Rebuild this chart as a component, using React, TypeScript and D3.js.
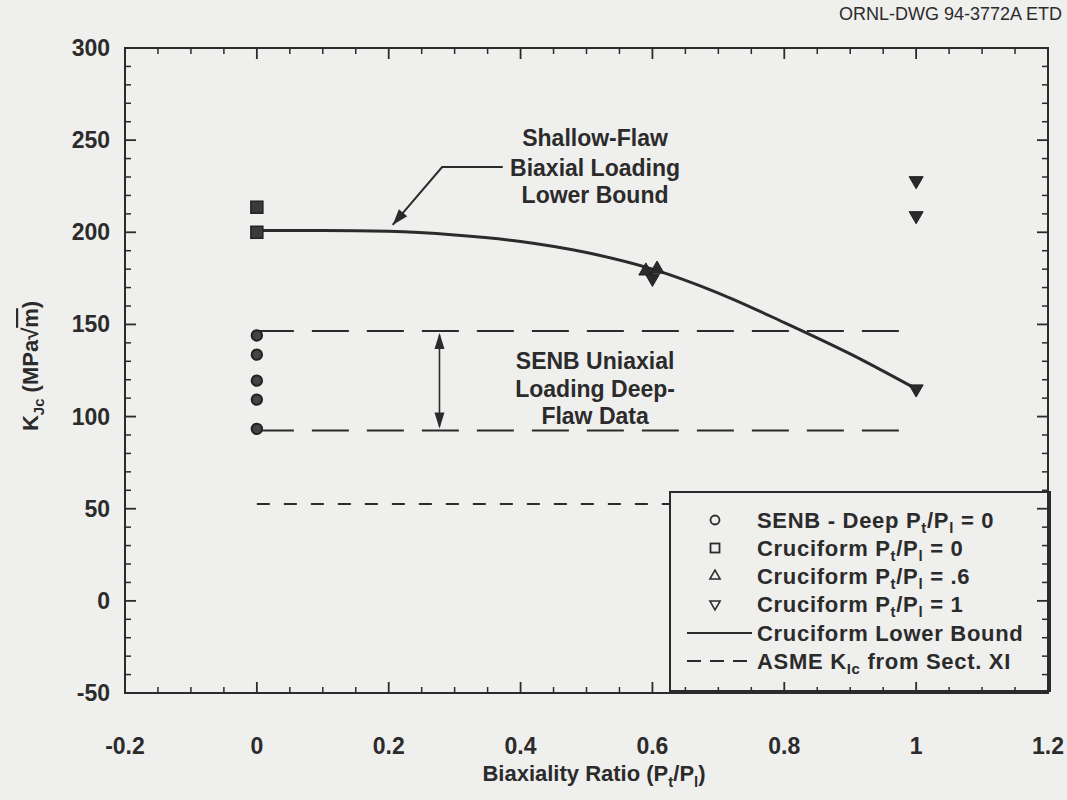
import React from "react";
import * as d3 from "d3";

const W = 1067;
const H = 800;

// Axis ticks
const xTickValues = [-0.2, 0, 0.2, 0.4, 0.6, 0.8, 1, 1.2];
const xTickLabels = ["-0.2", "0", "0.2", "0.4", "0.6", "0.8", "1", "1.2"];
const yTickValues = [-50, 0, 50, 100, 150, 200, 250, 300];
const yTickLabels = ["-50", "0", "50", "100", "150", "200", "250", "300"];

// Data series
const senbX = [0, 0, 0, 0, 0];
const senbK = [144, 133.6, 119.5, 109.2, 93.3];
const cruc0X = [0, 0];
const cruc0K = [213.6, 200];
const cruc06X = [0.59, 0.607];
const cruc06K = [179, 180];
const cruc1X = [0.6, 1, 1, 1];
const cruc1K = [175, 228, 209, 115];

// Cruciform lower bound curve
const lowerBoundX = [0, 0.1, 0.2, 0.3, 0.4, 0.5, 0.6, 0.7, 0.8, 0.9, 1.0];
const lowerBoundK = [201, 201, 200.5, 198.5, 195, 189, 180, 167, 151, 134, 115];

// Reference lines
const senbBandK = [146.5, 92.5];
const senbBandX = [0, 0.99];
const asmeK = 52.5;
const asmeX = [0, 1.0];

const BG = "#efefed";
const INK = "#2b2b2b";
const FONT = "'Liberation Sans', Arial, Helvetica, sans-serif";

type Seg = { t: string; sub?: boolean; over?: boolean };

function Rich({ segs, size, shift = 0.25 }: { segs: Seg[]; size: number; shift?: number }) {
  const out: any[] = [];
  let shifted = false;
  segs.forEach((s, i) => {
    let dy = 0;
    if (s.sub && !shifted) {
      dy = size * shift;
      shifted = true;
    } else if (!s.sub && shifted) {
      dy = -size * shift;
      shifted = false;
    }
    out.push(
      <tspan
        key={i}
        dy={dy || undefined}
        fontSize={s.sub ? size * 0.68 : size}
        textDecoration={s.over ? "overline" : undefined}
      >
        {s.t}
      </tspan>
    );
  });
  return <>{out}</>;
}

export default function App() {
  const x = d3.scaleLinear().domain([-0.2, 1.2]).range([125, 1048]);
  const y = d3.scaleLinear().domain([-50, 300]).range([693, 48]);
  const [x0, x1] = x.range();
  const [yb, yt] = y.range();

  const xMinor = d3.range(-0.2, 1.2001, 0.05).filter((v) => Math.abs(Math.round(v * 5) - v * 5) > 1e-6);
  const yMinor = d3.range(-50, 300.001, 10).filter((v) => v % 50 !== 0);

  const line = d3
    .line<number>()
    .x((_, i) => x(lowerBoundX[i]))
    .y((d) => y(d))
    .curve(d3.curveMonotoneX);

  const tri = d3.symbol().type(d3.symbolTriangle).size(85)() as string;
  const triL = d3.symbol().type(d3.symbolTriangle).size(45)() as string;

  const majorLen = 11;
  const minorLen = 6;
  const FS = 23;
  const LFS = 22;

  // annotation anchors (data coords)
  const shallowTip = [0.206, 204];
  const shallowElbow = [0.281, 235.4];
  const shallowEnd = [0.373, 235.4];
  const shallowText = [0.513, 247];
  const senbArrowX = 0.277;
  const senbText = [0.513, 126];

  const dx = x(shallowTip[0]) - x(shallowElbow[0]);
  const dyv = y(shallowTip[1]) - y(shallowElbow[1]);
  const ang = (Math.atan2(dyv, dx) * 180) / Math.PI;

  const legendRows = [
    { kind: "circle", segs: [{ t: "SENB - Deep P" }, { t: "t", sub: true }, { t: "/P" }, { t: "l", sub: true }, { t: " = 0" }] },
    { kind: "square", segs: [{ t: "Cruciform P" }, { t: "t", sub: true }, { t: "/P" }, { t: "l", sub: true }, { t: " = 0" }] },
    { kind: "up", segs: [{ t: "Cruciform P" }, { t: "t", sub: true }, { t: "/P" }, { t: "l", sub: true }, { t: " = .6" }] },
    { kind: "down", segs: [{ t: "Cruciform P" }, { t: "t", sub: true }, { t: "/P" }, { t: "l", sub: true }, { t: " = 1" }] },
    { kind: "solid", segs: [{ t: "Cruciform Lower Bound" }] },
    { kind: "dash", segs: [{ t: "ASME K" }, { t: "Ic", sub: true }, { t: " from Sect. XI" }] },
  ];
  const legX = 670, legY = 492, legW = 380, legH = 199;
  const legRowY = [520, 548, 576, 604, 633, 661];

  return (
    <svg
      width={W}
      height={H}
      style={{ position: "absolute", left: 0, top: 0, background: BG }}
      fontFamily={FONT}
    >
      <rect x={0} y={0} width={W} height={H} fill={BG} />

      {/* title */}
      <text x={1062} y={20} textAnchor="end" fontSize={18} fill={INK}>
        ORNL-DWG 94-3772A ETD
      </text>

      {/* SENB band lines */}
      {senbBandK.map((k, i) => (
        <line
          key={"band" + i}
          x1={x(senbBandX[0])}
          x2={x(senbBandX[1])}
          y1={y(k)}
          y2={y(k)}
          stroke={INK}
          strokeWidth={2}
          strokeDasharray="37,18"
        />
      ))}
      {/* ASME line */}
      <line
        x1={x(asmeX[0])}
        x2={x(asmeX[1])}
        y1={y(asmeK)}
        y2={y(asmeK)}
        stroke={INK}
        strokeWidth={2}
        strokeDasharray="13,14"
      />

      {/* lower bound curve */}
      <path d={line(lowerBoundK) || ""} fill="none" stroke={INK} strokeWidth={3} />

      {/* SENB double arrow */}
      <line
        x1={x(senbArrowX)}
        x2={x(senbArrowX)}
        y1={y(senbBandK[0]) + 4}
        y2={y(senbBandK[1]) - 4}
        stroke={INK}
        strokeWidth={1.6}
      />
      <path d={`M${x(senbArrowX)},${y(senbBandK[0]) + 2} l-5,16 l10,0 z`} fill={INK} />
      <path d={`M${x(senbArrowX)},${y(senbBandK[1]) - 2} l-5,-16 l10,0 z`} fill={INK} />
      <text
        x={x(senbText[0])}
        y={y(senbText[1])}
        textAnchor="middle"
        fontSize={FS}
        fontWeight="bold"
        fill={INK}
      >
        <tspan x={x(senbText[0])} dy={0}>SENB Uniaxial</tspan>
        <tspan x={x(senbText[0])} dy={28}>Loading Deep-</tspan>
        <tspan x={x(senbText[0])} dy={27}>Flaw Data</tspan>
      </text>

      {/* Shallow-flaw annotation */}
      <polyline
        points={`${x(shallowEnd[0])},${y(shallowEnd[1])} ${x(shallowElbow[0])},${y(shallowElbow[1])} ${x(shallowTip[0])},${y(shallowTip[1])}`}
        fill="none"
        stroke={INK}
        strokeWidth={2}
      />
      <path
        d="M0,0 L-16,-5.5 L-16,5.5 Z"
        fill={INK}
        transform={`translate(${x(shallowTip[0])},${y(shallowTip[1])}) rotate(${ang})`}
      />
      <text
        x={x(shallowText[0])}
        y={y(shallowText[1])}
        textAnchor="middle"
        fontSize={FS}
        fontWeight="bold"
        fill={INK}
      >
        <tspan x={x(shallowText[0])} dy={0}>Shallow-Flaw</tspan>
        <tspan x={x(shallowText[0])} dy={30}>Biaxial Loading</tspan>
        <tspan x={x(shallowText[0])} dy={27}>Lower Bound</tspan>
      </text>

      {/* data markers */}
      {senbK.map((k, i) => (
        <circle key={"c" + i} cx={x(senbX[i])} cy={y(k)} r={5.2} fill="#444" stroke="#222" strokeWidth={2} />
      ))}
      {cruc0K.map((k, i) => (
        <rect key={"s" + i} x={x(cruc0X[i]) - 6} y={y(k) - 6} width={12} height={12} fill="#3a3a3a" stroke="#222" strokeWidth={1.5} />
      ))}
      {cruc06K.map((k, i) => (
        <path key={"u" + i} d={tri} transform={`translate(${x(cruc06X[i])},${y(k)})`} fill="#2a2a2a" stroke="#222" strokeWidth={1} />
      ))}
      {cruc1K.map((k, i) => (
        <path key={"d" + i} d={tri} transform={`translate(${x(cruc1X[i])},${y(k)}) rotate(180)`} fill="#2a2a2a" stroke="#222" strokeWidth={1} />
      ))}

      {/* legend box */}
      <rect x={legX} y={legY} width={legW} height={legH} fill={BG} stroke={INK} strokeWidth={2} />
      {legendRows.map((r, i) => {
        const cy = legRowY[i];
        const sx = 715;
        let sym: any = null;
        if (r.kind === "circle") sym = <circle cx={sx} cy={cy} r={4.5} fill="none" stroke={INK} strokeWidth={1.8} />;
        else if (r.kind === "square") sym = <rect x={sx - 4.5} y={cy - 4.5} width={9} height={9} fill="none" stroke={INK} strokeWidth={1.8} />;
        else if (r.kind === "up") sym = <path d={triL} transform={`translate(${sx},${cy})`} fill="none" stroke={INK} strokeWidth={1.6} />;
        else if (r.kind === "down") sym = <path d={triL} transform={`translate(${sx},${cy}) rotate(180)`} fill="none" stroke={INK} strokeWidth={1.6} />;
        else if (r.kind === "solid") sym = <line x1={687} x2={752} y1={cy} y2={cy} stroke={INK} strokeWidth={1.8} />;
        else sym = <line x1={687} x2={752} y1={cy} y2={cy} stroke={INK} strokeWidth={2} strokeDasharray="14,9" />;
        return (
          <g key={"leg" + i}>
            {sym}
            <text x={757} y={cy + 8} fontSize={LFS} fontWeight="bold" fill={INK} letterSpacing={0.7}>
              <Rich segs={r.segs as Seg[]} size={LFS} shift={0.22} />
            </text>
          </g>
        );
      })}

      {/* frame */}
      <rect x={x0} y={yt} width={x1 - x0} height={yb - yt} fill="none" stroke={INK} strokeWidth={2} />

      {/* ticks */}
      {xTickValues.map((v, i) => (
        <g key={"xt" + i}>
          <line x1={x(v)} x2={x(v)} y1={yb} y2={yb - majorLen} stroke={INK} strokeWidth={1.8} />
          <line x1={x(v)} x2={x(v)} y1={yt} y2={yt + majorLen} stroke={INK} strokeWidth={1.8} />
          <text x={x(v)} y={yb + 61} textAnchor="middle" fontSize={FS} fontWeight="bold" fill={INK}>
            {xTickLabels[i]}
          </text>
        </g>
      ))}
      {xMinor.map((v, i) => (
        <g key={"xm" + i}>
          <line x1={x(v)} x2={x(v)} y1={yb} y2={yb - minorLen} stroke={INK} strokeWidth={1.5} />
          <line x1={x(v)} x2={x(v)} y1={yt} y2={yt + minorLen} stroke={INK} strokeWidth={1.5} />
        </g>
      ))}
      {yTickValues.map((v, i) => (
        <g key={"yt" + i}>
          <line x1={x0} x2={x0 + majorLen} y1={y(v)} y2={y(v)} stroke={INK} strokeWidth={1.8} />
          <line x1={x1} x2={x1 - majorLen} y1={y(v)} y2={y(v)} stroke={INK} strokeWidth={1.8} />
          <text x={110} y={y(v) + 8} textAnchor="end" fontSize={FS} fontWeight="bold" fill={INK}>
            {yTickLabels[i]}
          </text>
        </g>
      ))}
      {yMinor.map((v, i) => (
        <g key={"ym" + i}>
          <line x1={x0} x2={x0 + minorLen} y1={y(v)} y2={y(v)} stroke={INK} strokeWidth={1.5} />
          <line x1={x1} x2={x1 - minorLen} y1={y(v)} y2={y(v)} stroke={INK} strokeWidth={1.5} />
        </g>
      ))}

      {/* axis titles */}
      <text x={594} y={781} textAnchor="middle" fontSize={22} fontWeight="bold" fill={INK}>
        <Rich segs={[{ t: "Biaxiality Ratio (P" }, { t: "t", sub: true }, { t: "/P" }, { t: "l", sub: true }, { t: ")" }]} size={22} />
      </text>
      <text transform="translate(38,366) rotate(-90)" textAnchor="middle" fontSize={22} fontWeight="bold" fill={INK}>
        <Rich segs={[{ t: "K" }, { t: "Jc", sub: true }, { t: " (MPa√" }, { t: "m", over: true }, { t: ")" }]} size={22} />
      </text>
    </svg>
  );
}
